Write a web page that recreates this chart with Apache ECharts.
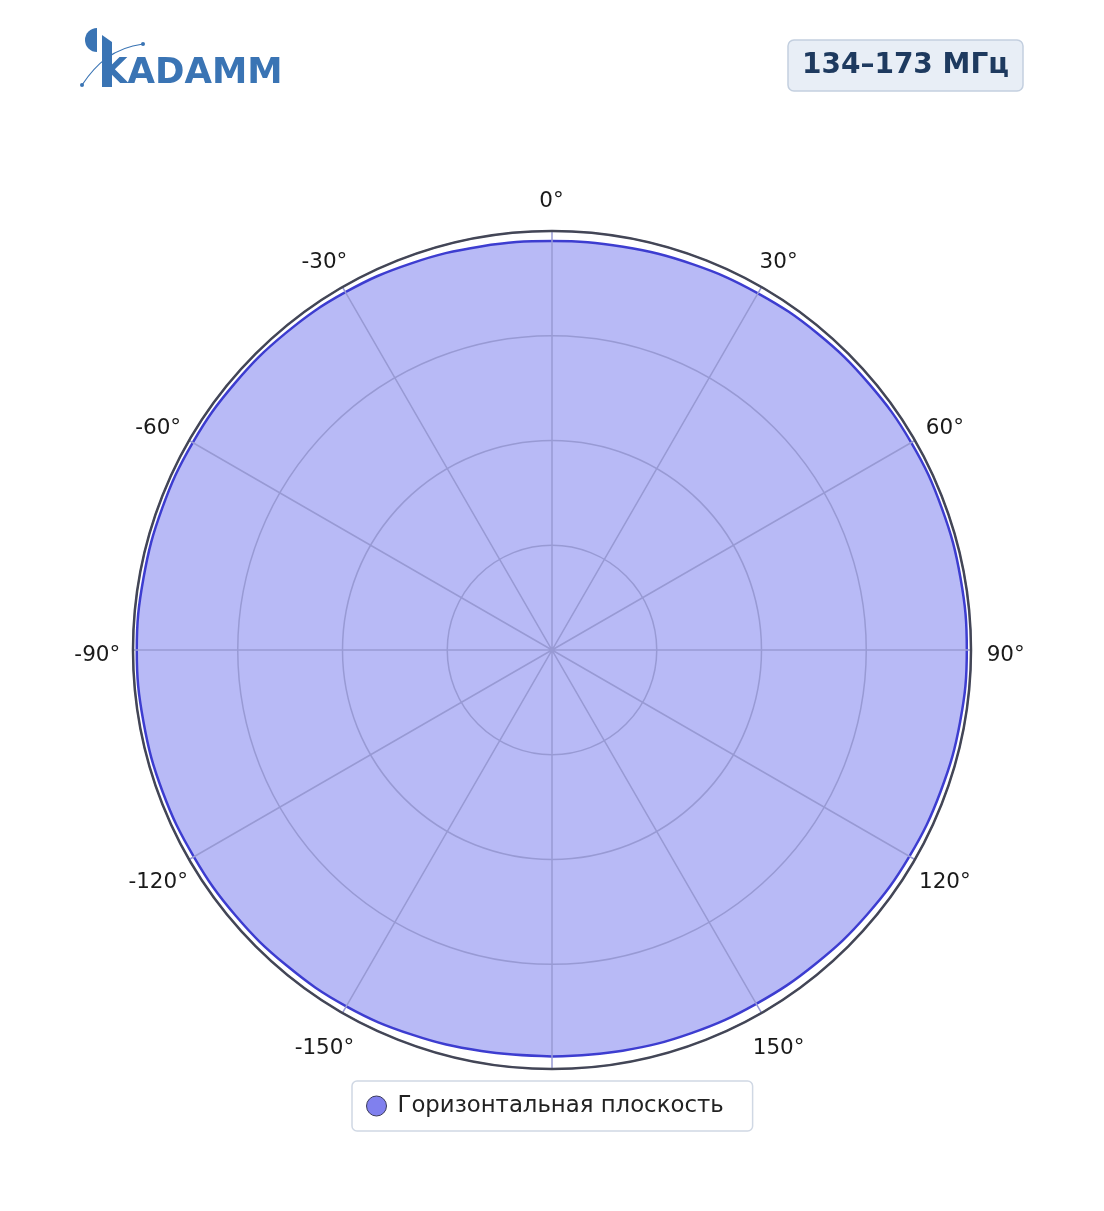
<!DOCTYPE html>
<html>
<head>
<meta charset="utf-8">
<script src="https://cdn.jsdelivr.net/npm/echarts@6/dist/echarts.min.js"></script>
<style>
html,body{margin:0;padding:0;background:#fff;}
#chart{width:1104px;height:1211px;}
</style>
</head>
<body>
<div id="chart"></div>
<script>
// Data
const angles = [-180,-170,-160,-150,-140,-130,-120,-110,-100,-90,-80,-70,-60,-50,-40,-30,-20,-10,0,10,20,30,40,50,60,70,80,90,100,110,120,130,140,150,160,170,180];
const gain   = [0.970,0.972,0.977,0.982,0.984,0.986,0.987,0.989,0.990,0.991,0.990,0.990,0.990,0.989,0.988,0.986,0.982,0.978,0.976,0.977,0.980,0.983,0.986,0.988,0.990,0.990,0.990,0.990,0.989,0.987,0.985,0.982,0.978,0.975,0.973,0.971,0.970];
const angleTicks = [-150,-120,-90,-60,-30,0,30,60,90,120,150];
const seriesName = 'Горизонтальная плоскость';
const bandText = '134–173 МГц';
const logoText = 'KADAMM';

const chart = echarts.init(document.getElementById('chart'), null, {renderer:'canvas'});
const FONT = 'DejaVu Sans';
const LABEL_R = 1.084;
const GRID = '#989ad4';

chart.setOption({
  backgroundColor: '#ffffff',
  animation: false,
  textStyle: {fontFamily: FONT},
  polar: {center: [552, 650], radius: 419},
  angleAxis: {
    type: 'value', min: -180, max: 180, interval: 30,
    startAngle: 270, clockwise: true, z: 5,
    axisLine: {show: true, lineStyle: {color: '#434656', width: 2.5}},
    axisTick: {show: false},
    axisLabel: {show: false},
    splitLine: {show: true, lineStyle: {color: GRID, width: 1.5}}
  },
  radiusAxis: {
    type: 'value', min: 0, max: 1, interval: 0.25, z: 5,
    axisLine: {show: false}, axisTick: {show: false}, axisLabel: {show: false},
    splitLine: {show: true, lineStyle: {color: GRID, width: 1.5}}
  },
  legend: {
    top: 1081, left: 352,
    data: [seriesName],
    icon: 'circle', itemWidth: 20, itemHeight: 20, itemGap: 10,
    padding: [12, 29, 12, 14],
    borderColor: '#d0d8e4', borderWidth: 1.5, borderRadius: 5,
    itemStyle: {color: '#8080ee', borderColor: '#3a3a5a', borderWidth: 1},
    textStyle: {fontSize: 22.8, lineHeight: 26, color: '#222', fontFamily: FONT, padding: [0,0,0,6]}
  },
  series: [{
    name: seriesName, type: 'line', coordinateSystem: 'polar', z: 1,
    data: angles.map((a, i) => [gain[i], a]),
    smooth: 0.4, symbol: 'none',
    lineStyle: {color: '#3d3dd0', width: 2.5},
    itemStyle: {color: '#8080ee'},
    areaStyle: {color: '#b8baf6', opacity: 1}
  }, {
    name: 'angleLabels', type: 'scatter', coordinateSystem: 'polar', z: 6, silent: true, clip: false,
    data: angleTicks.map(a => [LABEL_R, a]),
    symbolSize: 1, itemStyle: {color: 'rgba(0,0,0,0)'},
    label: {show: true, position: [0, 0], align: 'center', verticalAlign: 'middle', offset: [0, 6],
            formatter: p => p.value[1] + '°', opacity: 1,
            fontSize: 21.5, color: '#1a1a1a', textBorderWidth: 0, fontFamily: FONT}
  }],
  graphic: [
    // badge
    {type: 'rect', shape: {x: 788, y: 40, width: 235, height: 51, r: 6},
     style: {fill: '#e8eef6', stroke: '#c3cfdf', lineWidth: 1.5}},
    {type: 'text', x: 905.5, y: 65.5,
     style: {text: bandText, fill: '#1e3a5f', font: 'bold 28px "DejaVu Sans"', textAlign: 'center', textVerticalAlign: 'middle'}},
    // logo
    {type: 'sector', shape: {cx: 97, cy: 40, r0: 0, r: 12, startAngle: Math.PI/2, endAngle: Math.PI*3/2},
     style: {fill: '#3a74b4'}},
    {type: 'text', x: 100, y: 92, scaleX: 1.0,
     style: {text: logoText, fill: '#3a74b4', font: 'bold 35.5px "DejaVu Sans"', textVerticalAlign: 'bottom'}},
    {type: 'polygon', shape: {points: [[102,35],[112,42],[112,87],[102,87]]}, style: {fill: '#3a74b4'}},
    {type: 'bezierCurve', shape: {x1: 82, y1: 85, cpx1: 96, cpy1: 64, x2: 143, y2: 44, cpx2: 113, cpy2: 48},
     style: {stroke: '#3a74b4', lineWidth: 1.2, fill: null}},
    {type: 'circle', shape: {cx: 82, cy: 85, r: 2}, style: {fill: '#3a74b4'}},
    {type: 'circle', shape: {cx: 143, cy: 44, r: 2}, style: {fill: '#3a74b4'}}
  ]
});
</script>
</body>
</html>
